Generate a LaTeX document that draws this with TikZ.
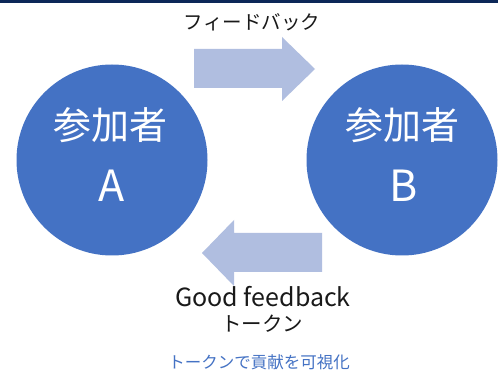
\documentclass[tikz,border=0pt]{standalone}
\usepackage{fontspec}
\newfontfamily\cjk{Noto Sans CJK JP}
\definecolor{circblue}{RGB}{68,114,196}
\definecolor{arrowblue}{RGB}{176,190,224}
\definecolor{navy}{RGB}{12,40,88}
\definecolor{noteblue}{RGB}{68,114,196}
\begin{document}
\begin{tikzpicture}[x=1pt,y=-1pt,
  person/.style={circle,fill=circblue,minimum size=191pt,inner sep=0pt},
  inside/.style={text=white,font=\cjk\fontsize{38}{40}\selectfont,inner sep=0pt,anchor=center},
  letter/.style={text=white,font=\cjk\fontsize{43}{45}\selectfont,inner sep=0pt,anchor=base},
  label/.style={text=black!90,font=\cjk\fontsize{19.5}{22}\selectfont,inner sep=0pt},
  blockarrow/.style={fill=arrowblue,draw=none}]
\useasboundingbox (0,0) rectangle (498,371);
\fill[white] (0,0) rectangle (498,371);
\fill[navy] (0,0) rectangle (498,3);
% participants
\node[person] (A) at (112,160) {};
\node[person] (B) at (402,160) {};
\node[inside] (At) at (110,125) {参加者};
\node[letter] (Al) at (112,202) {A};
\node[inside] (Bt) at (402,125) {参加者};
\node[letter] (Bl) at (404,202) {B};
% block arrows
\fill[blockarrow] (194,49) -- (282,49) -- (282,37) -- (315,69) -- (282,101) -- (282,88) -- (194,88) -- cycle;
\fill[blockarrow] (322,233) -- (234,233) -- (234,220) -- (202,253) -- (234,286) -- (234,272) -- (322,272) -- cycle;
% labels
\node[label] (fb) at (252,22) {フィードバック};
\node[label,font=\cjk\fontsize{25}{28}\selectfont,anchor=base] (gf1) at (263,307) {Good feedback};
\node[label,font=\cjk\fontsize{20.5}{22}\selectfont,anchor=base] (gf2) at (262,331) {トークン};
\node[text=noteblue,font=\cjk\fontsize{16.5}{18}\selectfont,inner sep=0pt] (note) at (259,362) {トークンで貢献を可視化};
\end{tikzpicture}
\end{document}
